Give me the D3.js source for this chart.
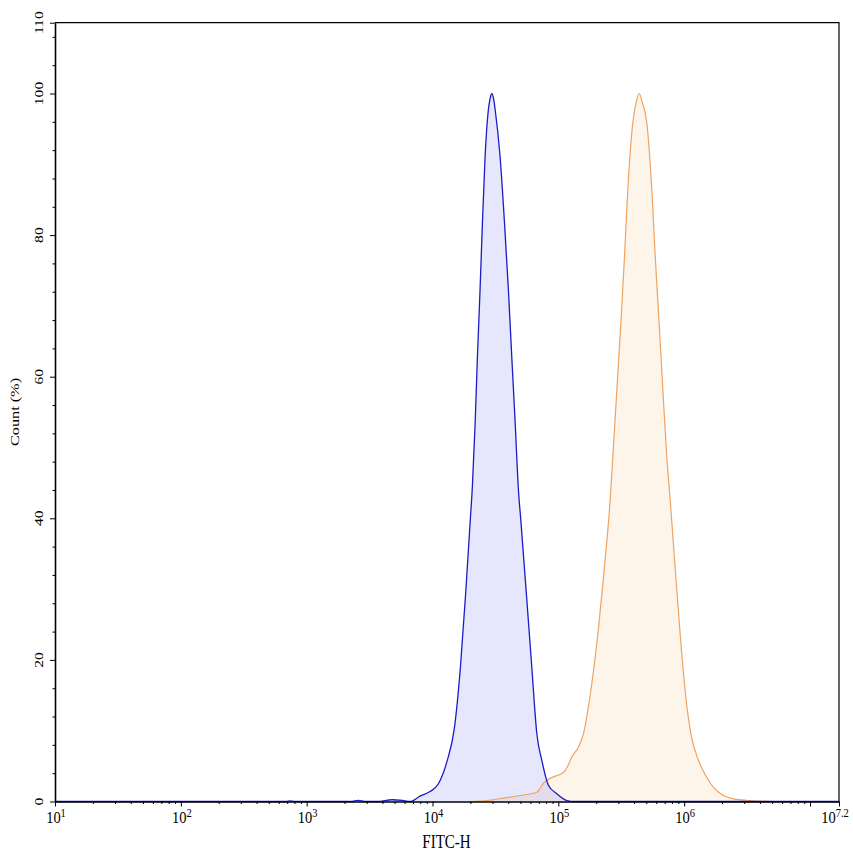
<!DOCTYPE html>
<html>
<head>
<meta charset="utf-8">
<script src="https://cdn.jsdelivr.net/npm/d3@7"></script>
<style>
  html, body { margin: 0; padding: 0; background: #fff; }
  svg { display: block; }
  text { font-family: "Liberation Serif", serif; fill: #000; }
</style>
</head>
<body>
<svg id="chart" width="853" height="856"></svg>
<script>
// ---- data (log10 of FITC-H intensity, Count %) ----
const blueLogX = [1.0, 2.84, 2.87, 2.9, 3.35, 3.41, 3.47, 3.56, 3.68, 3.76, 3.82, 3.901, 3.98, 4.047, 4.114, 4.175, 4.222, 4.262, 4.300, 4.317, 4.339, 4.357, 4.378, 4.397, 4.418, 4.444, 4.457, 4.471, 4.486, 4.498, 4.537, 4.572, 4.603, 4.630, 4.657, 4.683, 4.702, 4.750, 4.789, 4.829, 4.869, 4.921, 4.988, 5.068, 5.13, 7.23];
const blueCount = [0, 0, 0.08, 0, 0, 0.15, 0, 0, 0.25, 0.15, 0, 0.75, 1.4, 2.5, 5.6, 10.5, 19.0, 29.0, 39.7, 44.5, 53.5, 62.8, 72.3, 81.8, 91.1, 97.7, 99.2, 100, 99.2, 97.7, 91.1, 81.8, 72.3, 62.8, 53.5, 44.0, 39.7, 28.4, 19.0, 9.6, 5.8, 2.3, 1.1, 0.14, 0, 0];

const orangeLogX = [4.30, 4.432, 4.564, 4.696, 4.829, 4.882, 4.948, 5.041, 5.072, 5.107, 5.160, 5.200, 5.247, 5.314, 5.366, 5.412, 5.433, 5.465, 5.497, 5.526, 5.552, 5.592, 5.618, 5.642, 5.668, 5.703, 5.743, 5.770, 5.801, 5.831, 5.862, 5.889, 5.928, 5.968, 6.016, 6.053, 6.114, 6.180, 6.233, 6.312, 6.392, 6.525, 6.684];
const orangeCount = [0, 0.14, 0.47, 0.85, 1.3, 2.6, 3.4, 4.1, 4.9, 6.3, 7.7, 9.6, 14.3, 23.7, 33.1, 42.6, 48.7, 58.1, 67.6, 77.0, 86.4, 95.9, 98.7, 100, 98.7, 95.9, 86.4, 77.0, 67.6, 58.1, 48.7, 42.6, 33.1, 23.7, 14.3, 9.6, 5.8, 3.4, 2.0, 0.85, 0.38, 0.14, 0];

const xMajorExp = [1, 2, 3, 4, 5, 6, 7];
const xLabelExp = ["1", "2", "3", "4", "5", "6", "7.2"];
const xMaxExp = 7.2305;
const yMajor = [0, 20, 40, 60, 80, 100, 110];
const yLabels = ["0", "20", "40", "60", "80", "100", "110"];
const yMinorStep = 4;
const xTitle = "FITC-H";
const yTitle = "Count (%)";

// ---- layout ----
const L = 55, R = 839, T = 22.7, B = 801.5;
const svg = d3.select("#chart");

const x = d3.scaleLog().domain([10, Math.pow(10, xMaxExp)]).range([L, R]);
const y = d3.scaleLinear().domain([0, 110]).range([B, T]);

const toPts = (lx, c) => lx.map((v, i) => ({ v: Math.pow(10, v), c: c[i] }));
const bluePts = toPts(blueLogX, blueCount);
const orangePts = toPts(orangeLogX, orangeCount);

const area = d3.area().x(d => x(d.v)).y0(y(0)).y1(d => y(d.c)).curve(d3.curveMonotoneX);
const line = d3.line().x(d => x(d.v)).y(d => y(d.c)).curve(d3.curveMonotoneX);

const plot = svg.append("g");
plot.append("path").datum(orangePts).attr("d", area).attr("fill", "#fdf4ea");
plot.append("path").datum(bluePts).attr("d", area).attr("fill", "rgb(100,100,240)").attr("fill-opacity", 0.16);
plot.append("path").datum(orangePts).attr("d", line).attr("fill", "none").attr("stroke", "#eea362").attr("stroke-width", 1.2);
plot.append("path").datum(bluePts).attr("d", line).attr("fill", "none").attr("stroke", "#1c1cc4").attr("stroke-width", 1.3);

// frame (top + right)
svg.append("path")
  .attr("d", `M${L},${T}H${R}V${B}`)
  .attr("fill", "none").attr("stroke", "#000").attr("stroke-width", 1.2);

// ---- x axis ----
const xMinor = [];
for (let e = 1; e <= 7; e++) for (let m = 2; m <= 9; m++) {
  const v = m * Math.pow(10, e);
  if (v <= Math.pow(10, xMaxExp)) xMinor.push(v);
}
const xMajorVals = xMajorExp.map(e => Math.pow(10, e)).concat([Math.pow(10, xMaxExp)]);

const gxMinor = svg.append("g").attr("transform", `translate(0,${B})`)
  .call(d3.axisBottom(x).tickValues(xMinor).tickSize(2.5).tickSizeOuter(0).tickFormat(""));
gxMinor.select(".domain").remove();
const gx = svg.append("g").attr("transform", `translate(0,${B})`)
  .call(d3.axisBottom(x).tickValues(xMajorVals).tickSize(5).tickSizeOuter(0).tickFormat(""));
gx.select(".domain").attr("stroke-width", 1.6);
svg.selectAll(".tick line").attr("stroke", "#000");

// x labels
const labelPos = xLabelExp.map((s, i) => i < 6 ? Math.pow(10, xMajorExp[i]) : Math.pow(10, xMaxExp));
xLabelExp.forEach((s, i) => {
  const t = svg.append("text")
    .attr("transform", `translate(${x(labelPos[i]) + (i === 6 ? -4 : 1)},823.3) scale(1,1.2)`)
    .attr("text-anchor", "middle")
    .attr("font-size", 14.5);
  t.append("tspan").text("10");
  t.append("tspan").attr("dy", -5).attr("font-size", 10.5).text(s);
});

svg.append("text")
  .attr("transform", `translate(446.5,848) scale(1,1.2)`)
  .attr("text-anchor", "middle").attr("font-size", 15).text(xTitle);

// ---- y axis ----
const yMinor = d3.range(0, 110, yMinorStep).filter(v => v % 20 !== 0);
const gyMinor = svg.append("g").attr("transform", `translate(${L},0)`)
  .call(d3.axisLeft(y).tickValues(yMinor).tickSize(2.5).tickSizeOuter(0).tickFormat(""));
gyMinor.select(".domain").remove();
const gy = svg.append("g").attr("transform", `translate(${L},0)`)
  .call(d3.axisLeft(y).tickValues(yMajor).tickSize(5).tickSizeOuter(0).tickFormat(""));
gy.select(".domain").attr("stroke-width", 1.6);
svg.selectAll(".tick line").attr("stroke", "#000");

yMajor.forEach((v, i) => {
  svg.append("text")
    .attr("transform", `translate(43,${y(v)}) scale(1,1.3) rotate(-90)`)
    .attr("text-anchor", "middle").attr("font-size", 12)
    .text(yLabels[i]);
});

svg.append("text")
  .attr("transform", `translate(18.5,412) scale(1,1.3) rotate(-90)`)
  .attr("text-anchor", "middle").attr("font-size", 12.5)
  .text(yTitle);
</script>
</body>
</html>
